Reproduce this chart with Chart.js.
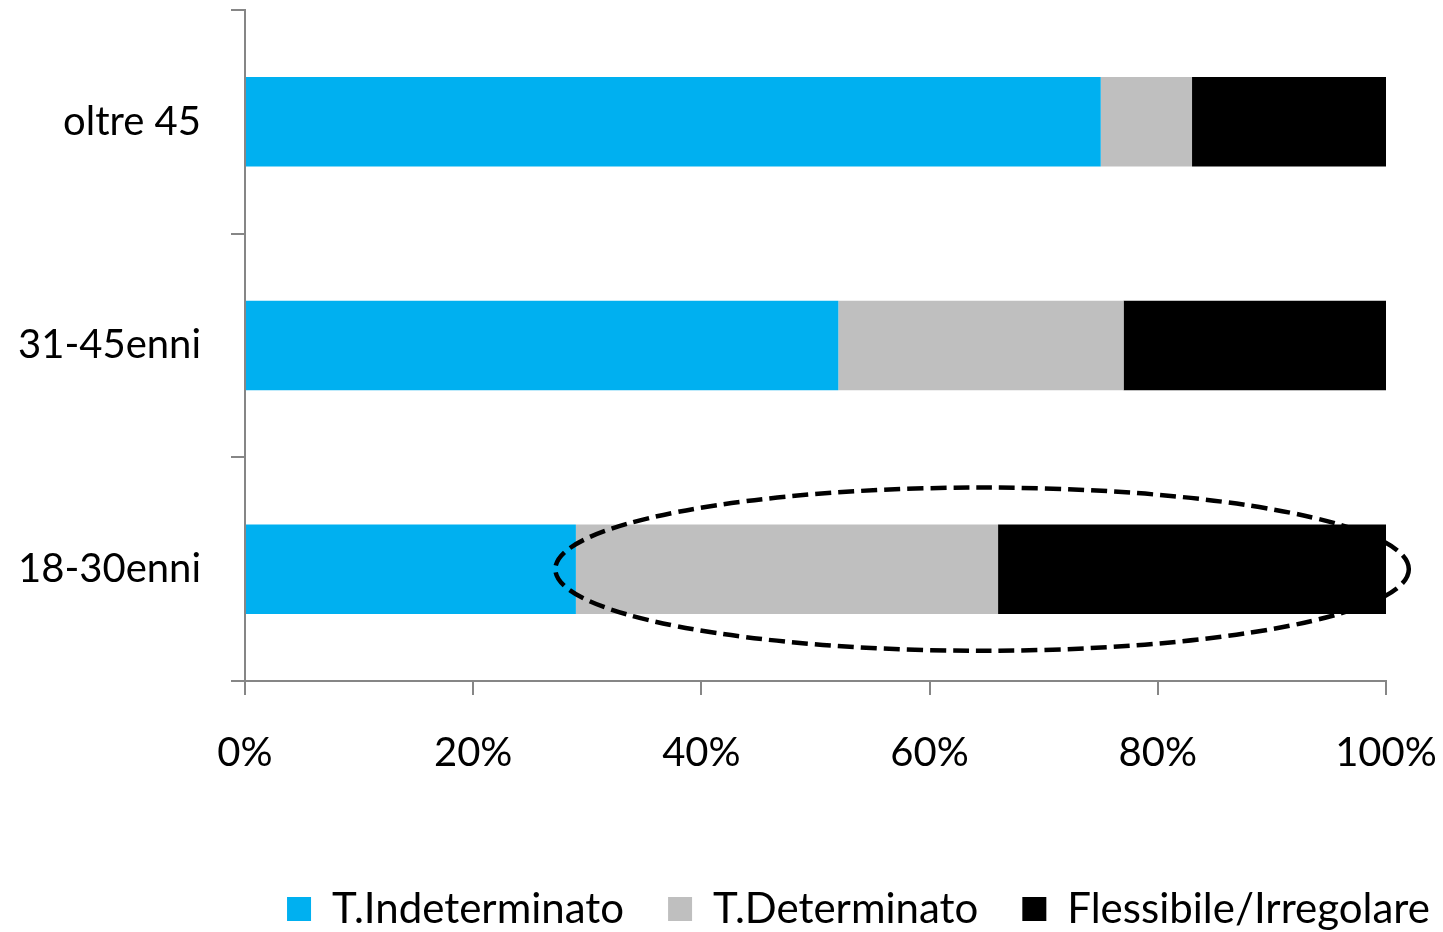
<!DOCTYPE html>
<html>
<head>
<meta charset="utf-8">
<script src="https://cdn.jsdelivr.net/npm/chart.js@4.4.1/dist/chart.umd.min.js"></script>
<style>
  html, body { margin: 0; padding: 0; background: #ffffff; }
  #wrap { width: 1443px; height: 932px; }
</style>
</head>
<body>
<div id="wrap"><canvas id="c" width="1443" height="932"></canvas></div>
<script>
// ---- data ----
const categories = ['oltre 45', '31-45enni', '18-30enni'];
const seriesNames = ['T.Indeterminato', 'T.Determinato', 'Flessibile/Irregolare'];
const indeterminato = [75, 52, 29];
const determinato = [8, 25, 37];
const flessibile = [17, 23, 34];
const xTicks = [0, 20, 40, 60, 80, 100];

// highlighted region (dashed ellipse) around the 18-30enni bar, in data units
const highlightCategory = '18-30enni';
const highlightCenter = 64.6;   // % on x axis
const highlightHalfWidth = 37.4; // % on x axis
const highlightHalfHeight = 0.365; // in category units

const FONT = 'Lato';
const AXIS_COLOR = '#868686';

const ellipsePlugin = {
  id: 'ellipseHighlight',
  afterDatasetsDraw(chart) {
    const x = chart.scales.x, y = chart.scales.y;
    const idx = categories.indexOf(highlightCategory);
    const cx = x.getPixelForValue(highlightCenter);
    const rx = x.getPixelForValue(highlightCenter + highlightHalfWidth) - cx;
    const cy = y.getPixelForValue(idx);
    const step = Math.abs(y.getPixelForValue(1) - y.getPixelForValue(0));
    const ry = highlightHalfHeight * step;
    const ctx = chart.ctx;
    ctx.save();
    ctx.beginPath();
    ctx.ellipse(cx, cy, rx, ry, 0, 0, Math.PI * 2);
    ctx.setLineDash([16, 7]);
    ctx.lineWidth = 4.5;
    ctx.strokeStyle = '#000000';
    ctx.stroke();
    ctx.restore();
  }
};

const legendShiftPlugin = {
  id: 'legendShift',
  afterLayout(chart) {
    const lg = chart.legend;
    if (!lg) return;
    const ca = chart.chartArea;
    const targetCx = (ca.left + ca.right) / 2 + 43;
    const dx = targetCx - (lg.left + lg.right) / 2;
    lg.left += dx; lg.right += dx;
    const pad = lg.options.labels.padding;
    const fs = lg.options.labels.font.size;
    const targetCy = ca.bottom + 228;
    const curCy = lg.top + pad + fs / 2;
    const dy = targetCy - curCy;
    lg.top += dy; lg.bottom += dy;
  }
};

new Chart(document.getElementById('c'), {
  type: 'bar',
  data: {
    labels: categories,
    datasets: [
      { label: seriesNames[0], data: indeterminato, backgroundColor: '#00B0F0', borderWidth: 0 },
      { label: seriesNames[1], data: determinato, backgroundColor: '#BFBFBF', borderWidth: 0 },
      { label: seriesNames[2], data: flessibile, backgroundColor: '#000000', borderWidth: 0 }
    ]
  },
  options: {
    indexAxis: 'y',
    responsive: false,
    animation: false,
    devicePixelRatio: 1,
    categoryPercentage: 1,
    barPercentage: 0.4,
    layout: { padding: { top: 10, right: 57, left: 0, bottom: 59 } },
    plugins: {
      tooltip: { enabled: false },
      legend: {
        position: 'bottom',
        labels: {
          font: { family: FONT, size: 42 },
          color: '#000000',
          boxWidth: 24,
          boxHeight: 24,
          padding: 44
        }
      }
    },
    scales: {
      x: {
        stacked: true,
        min: 0,
        max: 100,
        afterBuildTicks(scale) { scale.ticks = xTicks.map(v => ({ value: v })); },
        afterFit(scale) {
          scale.height = 96;
          scale.paddingLeft = 0; scale.paddingRight = 0;
          scale.paddingTop = 0; scale.paddingBottom = 0;
        },
        ticks: {
          callback: v => v + '%',
          font: { family: FONT, size: 40 },
          color: '#000000',
          padding: 34,
          maxRotation: 0
        },
        grid: {
          display: true,
          drawOnChartArea: false,
          drawTicks: true,
          tickLength: 14,
          color: AXIS_COLOR,
          lineWidth: 2
        },
        border: { display: true, color: AXIS_COLOR, width: 2 }
      },
      y: {
        stacked: true,
        afterFit(scale) {
          scale.width = 245;
          scale.paddingLeft = 0; scale.paddingRight = 0;
          scale.paddingTop = 0; scale.paddingBottom = 0;
        },
        ticks: {
          font: { family: FONT, size: 40 },
          color: '#000000',
          padding: 30
        },
        grid: {
          display: true,
          offset: true,
          drawOnChartArea: false,
          drawTicks: true,
          tickLength: 14,
          color: AXIS_COLOR,
          lineWidth: 2
        },
        border: { display: true, color: AXIS_COLOR, width: 2 }
      }
    }
  },
  plugins: [ellipsePlugin, legendShiftPlugin]
});
</script>
</body>
</html>
